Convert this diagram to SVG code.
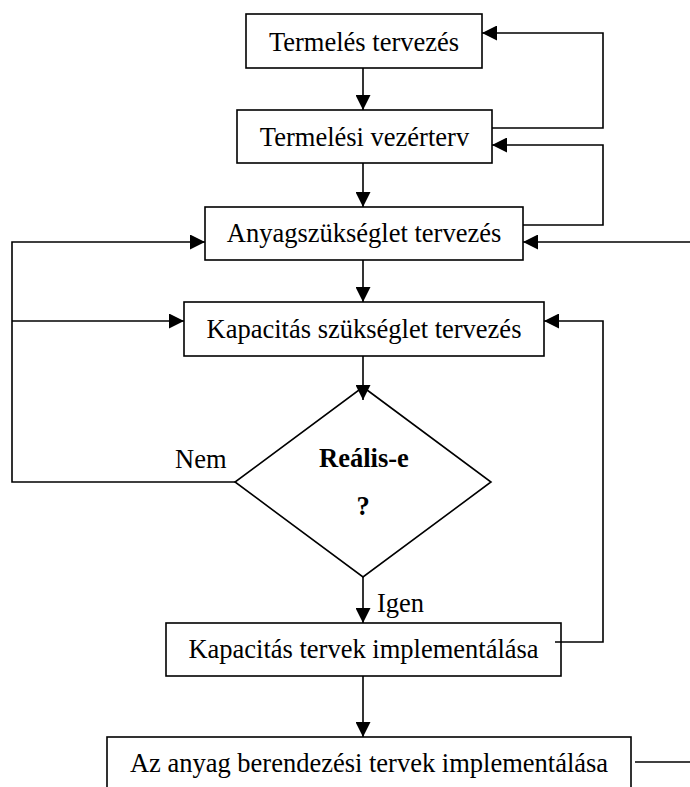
<svg xmlns="http://www.w3.org/2000/svg" width="690" height="787" viewBox="0 0 690 787">
  <style>
    .box { fill: #ffffff; stroke: #000000; stroke-width: 1.6; }
    .lbl { font-family: "Liberation Serif", "Times New Roman", serif; font-size: 26.5px; fill: #000000; text-anchor: middle; }
    .note { font-family: "Liberation Serif", "Times New Roman", serif; font-size: 26.5px; fill: #000000; }
    .bold { font-weight: bold; }
    .wire { fill: none; stroke: #000000; stroke-width: 1.6; }
  </style>
  <defs>
    <marker id="arrow" markerUnits="userSpaceOnUse" markerWidth="15" markerHeight="15" refX="15" refY="7.5" orient="auto">
      <path d="M0,0 L15,7.5 L0,15 z" fill="#000000"/>
    </marker>
  </defs>

  <rect width="690" height="787" fill="#ffffff"/>

  <g id="termeles-tervezes">
    <rect class="box" x="246" y="14" width="236" height="54"/>
    <text class="lbl" x="364" y="51">Termelés tervezés</text>
  </g>

  <g id="termelesi-vezerterv">
    <rect class="box" x="237" y="110" width="255" height="53"/>
    <text class="lbl" x="364.5" y="146">Termelési vezérterv</text>
  </g>

  <g id="anyagszukseglet">
    <rect class="box" x="205" y="207" width="318" height="53"/>
    <text class="lbl" x="364" y="242">Anyagszükséglet tervezés</text>
  </g>

  <g id="kapacitas-szukseglet">
    <rect class="box" x="184" y="302" width="360" height="54"/>
    <text class="lbl" x="364" y="338">Kapacitás szükséglet tervezés</text>
  </g>

  <g id="realis-dontes">
    <polygon class="box" points="363,387 491,482 363,577 235,482"/>
    <text class="lbl bold" x="364" y="467">Reális-e</text>
    <text class="lbl bold" x="363" y="515">?</text>
    <text class="note" x="175" y="468">Nem</text>
    <text class="note" x="377" y="612">Igen</text>
  </g>

  <g id="kapacitas-tervek">
    <rect class="box" x="166" y="623" width="395" height="53"/>
    <text class="lbl" x="363.5" y="658">Kapacitás tervek implementálása</text>
  </g>

  <g id="anyag-berendezesi">
    <rect class="box" x="107" y="737" width="524" height="60"/>
    <text class="lbl" x="369" y="772">Az anyag berendezési tervek implementálása</text>
  </g>

  <!-- connectors, drawn over the shapes so arrowheads stay visible -->
  <g id="connectors">
    <line class="wire" x1="363" y1="68" x2="363" y2="110" marker-end="url(#arrow)"/>
    <line class="wire" x1="363" y1="163" x2="363" y2="207" marker-end="url(#arrow)"/>
    <line class="wire" x1="363" y1="260" x2="363" y2="302" marker-end="url(#arrow)"/>
    <line class="wire" x1="363" y1="356" x2="363" y2="400" marker-end="url(#arrow)"/>
    <line class="wire" x1="363" y1="577" x2="363" y2="623" marker-end="url(#arrow)"/>
    <line class="wire" x1="363" y1="676" x2="363" y2="737" marker-end="url(#arrow)"/>
    <!-- feedback loops on the right -->
    <polyline class="wire" points="492,128 603,128 603,33 482,33" marker-end="url(#arrow)"/>
    <polyline class="wire" points="523,225 603,225 603,145 492,145" marker-end="url(#arrow)"/>
    <line class="wire" x1="690" y1="242" x2="523" y2="242" marker-end="url(#arrow)"/>
    <polyline class="wire" points="555,642 603,642 603,321 544,321" marker-end="url(#arrow)"/>
    <!-- "Nem" branch on the left -->
    <polyline class="wire" points="235,482 12,482 12,242 205,242" marker-end="url(#arrow)"/>
    <line class="wire" x1="12" y1="321" x2="184" y2="321" marker-end="url(#arrow)"/>
    <!-- outgoing line from the last step -->
    <line class="wire" x1="635" y1="762" x2="690" y2="762"/>
  </g>
</svg>
